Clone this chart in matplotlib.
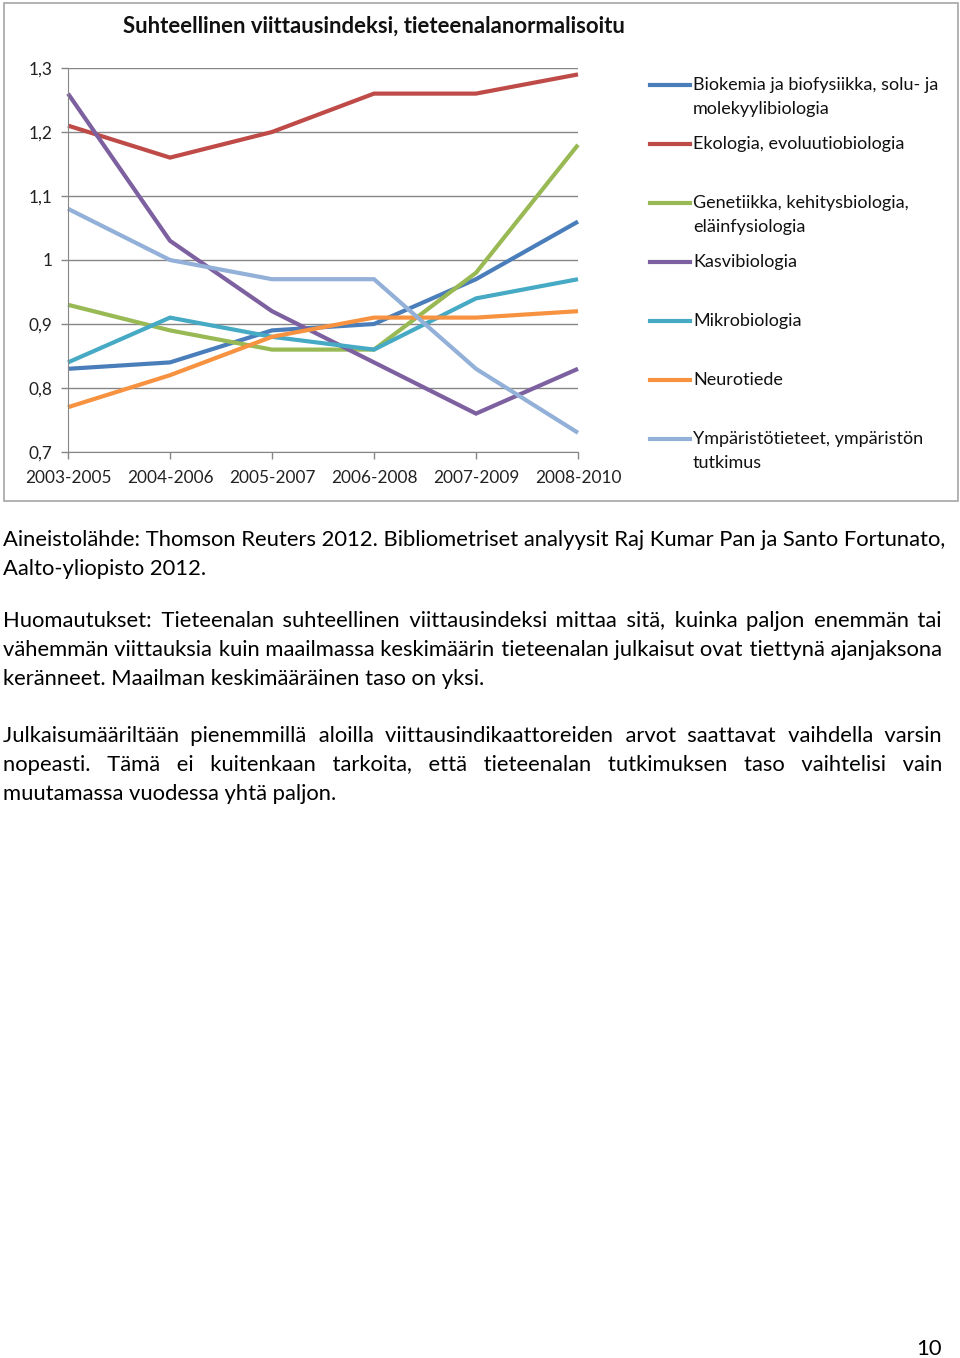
import matplotlib
matplotlib.use("Agg")
import matplotlib.pyplot as plt
from matplotlib.lines import Line2D
from matplotlib.patches import Rectangle
from matplotlib.font_manager import FontProperties

W, H = 960, 1358
FONT = ["Lato", "DejaVu Sans"]
plt.rcParams['font.family'] = FONT

periods = ["2003-2005", "2004-2006", "2005-2007", "2006-2008", "2007-2009", "2008-2010"]
biokemia = [0.83, 0.84, 0.89, 0.90, 0.97, 1.06]
ekologia = [1.21, 1.16, 1.20, 1.26, 1.26, 1.29]
genetiikka = [0.93, 0.89, 0.86, 0.86, 0.98, 1.18]
kasvibiologia = [1.26, 1.03, 0.92, 0.84, 0.76, 0.83]
mikrobiologia = [0.84, 0.91, 0.88, 0.86, 0.94, 0.97]
neurotiede = [0.77, 0.82, 0.88, 0.91, 0.91, 0.92]
ymparisto = [1.08, 1.00, 0.97, 0.97, 0.83, 0.73]

series_names = [
    ["Biokemia ja biofysiikka, solu- ja", "molekyylibiologia"],
    ["Ekologia, evoluutiobiologia"],
    ["Genetiikka, kehitysbiologia,", "eläinfysiologia"],
    ["Kasvibiologia"],
    ["Mikrobiologia"],
    ["Neurotiede"],
    ["Ympäristötieteet, ympäristön", "tutkimus"],
]
series_values = [biokemia, ekologia, genetiikka, kasvibiologia, mikrobiologia, neurotiede, ymparisto]
colors = ["#4A7EBB", "#BE4B48", "#98B954", "#7D60A0", "#46AAC5", "#F69240", "#92B0D8"]
yticks = [0.7, 0.8, 0.9, 1.0, 1.1, 1.2, 1.3]
ytick_labels = ["0,7", "0,8", "0,9", "1", "1,1", "1,2", "1,3"]

title = "Suhteellinen viittausindeksi, tieteenalanormalisoitu"
paragraphs = [
    ["Aineistolähde: Thomson Reuters 2012. Bibliometriset analyysit Raj Kumar Pan ja Santo Fortunato,",
     "Aalto-yliopisto 2012."],
    ["Huomautukset: Tieteenalan suhteellinen viittausindeksi mittaa sitä, kuinka paljon enemmän tai",
     "vähemmän viittauksia kuin maailmassa keskimäärin tieteenalan julkaisut ovat tiettynä ajanjaksona",
     "keränneet. Maailman keskimääräinen taso on yksi."],
    ["Julkaisumääriltään pienemmillä aloilla viittausindikaattoreiden arvot saattavat vaihdella varsin",
     "nopeasti. Tämä ei kuitenkaan tarkoita, että tieteenalan tutkimuksen taso vaihtelisi vain",
     "muutamassa vuodessa yhtä paljon."],
]
page_number = "10"


def fx(x):
    return x / W


def fy(y):
    return 1 - y / H


fig = plt.figure(figsize=(W / 100, H / 100), dpi=100)
fig.patch.set_facecolor("white")

# chart border
fig.patches.append(Rectangle((fx(4), fy(501)), fx(954), (498) / H, transform=fig.transFigure,
                             fill=False, edgecolor="#A6A6A6", linewidth=1.2))

# axes
x0, x1, ytop, ybot = 68, 578, 68, 452
ax = fig.add_axes([fx(x0), fy(ybot), (x1 - x0) / W, (ybot - ytop) / H])
xs = list(range(len(periods)))
for vals, c in zip(series_values, colors):
    ax.plot(xs, vals, color=c, lw=3.0, solid_capstyle="butt", solid_joinstyle="miter", clip_on=False)
ax.set_xlim(0, len(periods) - 1)
ax.set_ylim(0.7, 1.3)
ax.set_yticks(yticks)
ax.set_yticklabels(ytick_labels)
ax.set_xticks(xs)
ax.set_xticklabels(periods)
ax.grid(axis="y", color="#868686", lw=1.0)
ax.set_axisbelow(True)
for s in ["top", "right"]:
    ax.spines[s].set_visible(False)
ax.spines["left"].set_color("#868686")
ax.spines["bottom"].set_color("#868686")
ax.tick_params(axis="both", colors="#868686", length=5, width=1.0, labelsize=12.4, labelcolor="#222222")
ax.tick_params(axis="y", pad=6)
ax.tick_params(axis="x", pad=8)
ax.set_facecolor("none")

fig.text(fx(374), fy(33), title, ha="center", va="baseline", fontsize=15.9, fontweight="bold",
         color="#111111")

# legend
leg_y = [85, 144, 203, 262, 321, 380, 439]
for names, c, yy in zip(series_names, colors, leg_y):
    fig.add_artist(Line2D([fx(650), fx(690)], [fy(yy), fy(yy)], transform=fig.transFigure, color=c, lw=3.0))
    for i, nm in enumerate(names):
        fig.text(fx(693), fy(yy + 5 + i * 24), nm, ha="left", va="baseline", fontsize=13.0, color="#111111")

# body text, justified (one text per line, gaps widened with hair spaces)
renderer = fig.canvas.get_renderer()
BODY_FS = 15.8
prop = FontProperties(family=FONT, size=BODY_FS)
HAIR = "\u200a"


def tw(s):
    return renderer.get_text_width_height_descent(s, prop, ismath=False)[0]


left, right = 3, 942
para_start = [540, 621, 736]
LINE_H = 29
for p, ystart in zip(paragraphs, para_start):
    for li, line in enumerate(p):
        yy = ystart + li * LINE_H + 6
        last = li == len(p) - 1
        s = line
        if not last:
            words = line.split(" ")
            wws = [tw(w) for w in words]
            g = (right - left - sum(wws)) / (len(words) - 1)
            s = words[0]
            for i in range(1, len(words)):
                desired = sum(wws[:i + 1]) + i * g
                best, best_err = None, None
                for m in range(0, 60):
                    cand = s + " " + HAIR * m + words[i]
                    err = abs(tw(cand) - desired)
                    if best_err is None or err < best_err:
                        best, best_err = cand, err
                    elif err > best_err:
                        break
                s = best
        fig.text(fx(left), fy(yy), s, ha="left", va="baseline", fontproperties=prop, color="#000000")

fig.text(fx(942), fy(1355), page_number, ha="right", va="baseline", fontsize=15.8, color="#000000")

fig.savefig("out.png", dpi=100)
